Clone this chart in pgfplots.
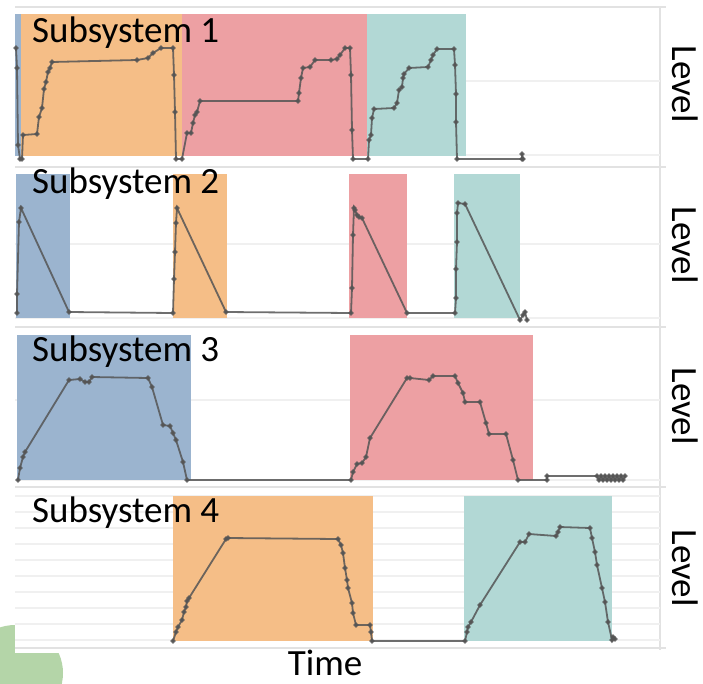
\documentclass[border=0pt]{standalone}
\usepackage{pgfplots}
\pgfplotsset{compat=1.18}
\usepackage{fontspec}
\setmainfont{Carlito}
\definecolor{cblue}{RGB}{155,180,207}
\definecolor{corange}{RGB}{245,190,135}
\definecolor{cred}{RGB}{237,160,163}
\definecolor{cteal}{RGB}{178,216,213}
\definecolor{cline}{RGB}{85,85,85}
\definecolor{cgrid}{RGB}{240,240,240}
\definecolor{cborder}{RGB}{226,226,226}
\definecolor{cgreen}{RGB}{180,213,168}
\pgfplotsset{
  panel/.style={anchor=north west, scale only axis, width=645pt,
    xmin=15, xmax=660, y dir=reverse, axis line style={draw=none},
    xtick=\empty, yticklabels={}, major tick length=0pt, ymajorgrids,
    grid style={cgrid, line width=1.2pt}, clip=false},
  lvl/.style={cline, line width=1.8pt, mark=*, mark size=1.6pt, opacity=0.85},
  shade/.style={fill=#1, draw=none, forget plot},
}
\begin{document}
\begin{tikzpicture}[x=1pt,y=1pt]
\useasboundingbox (0,0) rectangle (703,-683);
\fill[cgreen] (15,-673) circle (48);
\fill[white] (15,0) rectangle (668,-653);
\draw[cborder, line width=1.2pt] (660,-7) -- (660,-650);
\foreach \yy in {7,167,327,487,648} {\draw[cborder, line width=1.5pt] (15,-\yy) -- (666,-\yy);}
% Panel 1
\begin{axis}[panel, at={(15pt,-7pt)}, height=157pt, ymin=7, ymax=164, ytick={81,155}]
\addplot[shade=cblue] coordinates {(15,14) (21,14) (21,156) (15,156)} -- cycle;
\addplot[shade=corange] coordinates {(21,14) (182,14) (182,156) (21,156)} -- cycle;
\addplot[shade=cred] coordinates {(182,14) (367,14) (367,156) (182,156)} -- cycle;
\addplot[shade=cteal] coordinates {(367,14) (466,14) (466,156) (367,156)} -- cycle;
\addplot[lvl] coordinates {(16,48)(17,68)(18,145)(20,159)(22,159)(23,135)(37,134)(39,117)(42,108)(44,89)(46,82)(48,72)(50,68)(52,62)(137,60)(148,58)(153,53)(161,48)(173,48)(174,75)(175,112)(176,159)(182,159)(187,133)(191,133)(193,123)(195,115)(197,112)(200,101)(298,101)(299,93)(301,78)(303,68)(310,67)(315,60)(331,60)(337,59)(340,55)(345,48)(350,48)(351,75)(352,130)(353,159)(368,159)(369,140)(371,135)(372,118)(374,109)(394,108)(397,103)(399,90)(402,87)(403,78)(404,74)(409,68)(428,67)(431,60)(433,55)(437,49)(454,49)(455,65)(456,94)(456,122)(457,159)(522,159)(522,154)(523,159)};
\end{axis}
% Panel 2
\begin{axis}[panel, at={(15pt,-168pt)}, height=155pt, ymin=168, ymax=323, ytick={244,318}]
\addplot[shade=cblue] coordinates {(16,174) (70,174) (70,318) (16,318)} -- cycle;
\addplot[shade=corange] coordinates {(173,174) (227,174) (227,318) (173,318)} -- cycle;
\addplot[shade=cred] coordinates {(349,174) (407,174) (407,318) (349,318)} -- cycle;
\addplot[shade=cteal] coordinates {(454,174) (520,174) (520,318) (454,318)} -- cycle;
\addplot[lvl] coordinates {(17,313)(17,294)(19,222)(21,208)(69,312)(173,313)(174,279)(175,252)(176,223)(177,208)(226,312)(351,313)(352,288)(353,235)(354,208)(355,210)(357,215)(359,217)(362,218)(407,313)(455,313)(456,298)(456,269)(457,242)(457,213)(458,203)(465,204)(520,320)(523,315)(525,312)(527,320)};
\end{axis}
% Panel 3
\begin{axis}[panel, at={(15pt,-328pt)}, height=157pt, ymin=328, ymax=485, ytick={400,480}]
\addplot[shade=cblue] coordinates {(17,335) (191,335) (191,480) (17,480)} -- cycle;
\addplot[shade=cred] coordinates {(350,335) (533,335) (533,480) (350,480)} -- cycle;
\addplot[lvl] coordinates {(18,480)(20,468)(23,457)(25,452)(69,380)(80,379)(85,382)(89,382)(92,377)(148,378)(152,387)(163,425)(170,426)(173,433)(176,440)(183,462)(187,480)(351,480)(353,472)(357,464)(362,463)(366,457)(370,438)(407,378)(410,378)(429,380)(433,376)(455,376)(458,383)(463,393)(465,402)(480,402)(486,423)(489,434)(506,434)(513,460)(518,480)(547,480)(547,476)(597,476)(599,480)(601,476)(603,480)(605,476)(607,480)(609,476)(611,480)(613,476)(615,480)(617,476)(619,480)(621,476)(623,480)(625,476)};
\end{axis}
% Panel 4
\begin{axis}[panel, at={(15pt,-488pt)}, height=160pt, ymin=488, ymax=648, ytick={496,512,528,544,560,576,592,608,624,640}]
\addplot[shade=corange] coordinates {(173,496) (373,496) (373,641) (173,641)} -- cycle;
\addplot[shade=cteal] coordinates {(464,496) (612,496) (612,641) (464,641)} -- cycle;
\addplot[lvl] coordinates {(173,641)(176,632)(178,627)(182,620)(184,612)(186,607)(187,601)(189,598)(226,539)(228,538)(338,539)(341,545)(343,553)(345,568)(347,580)(348,588)(352,603)(353,613)(356,625)(370,625)(371,632)(372,641)(465,641)(467,632)(468,627)(471,622)(480,605)(520,542)(525,542)(529,534)(556,536)(558,532)(560,527)(590,528)(592,538)(595,552)(597,565)(602,588)(605,602)(608,622)(612,640)(613,637)(615,639)};
\end{axis}
% Labels
\begin{scope}[font=\fontsize{37}{40}\selectfont]
\node[anchor=base west, inner sep=0] at (32,-42) {Subsystem 1};
\node[anchor=base west, inner sep=0] at (32,-193) {Subsystem 2};
\node[anchor=base west, inner sep=0] at (32,-361) {Subsystem 3};
\node[anchor=base west, inner sep=0] at (32,-522) {Subsystem 4};
\node[anchor=base, inner sep=0] at (325,-675) {Time};
\node[rotate=-90, inner sep=0] at (685,-84) {Level};
\node[rotate=-90, inner sep=0] at (685,-245) {Level};
\node[rotate=-90, inner sep=0] at (685,-406) {Level};
\node[rotate=-90, inner sep=0] at (685,-568) {Level};
\end{scope}
\end{tikzpicture}
\end{document}
